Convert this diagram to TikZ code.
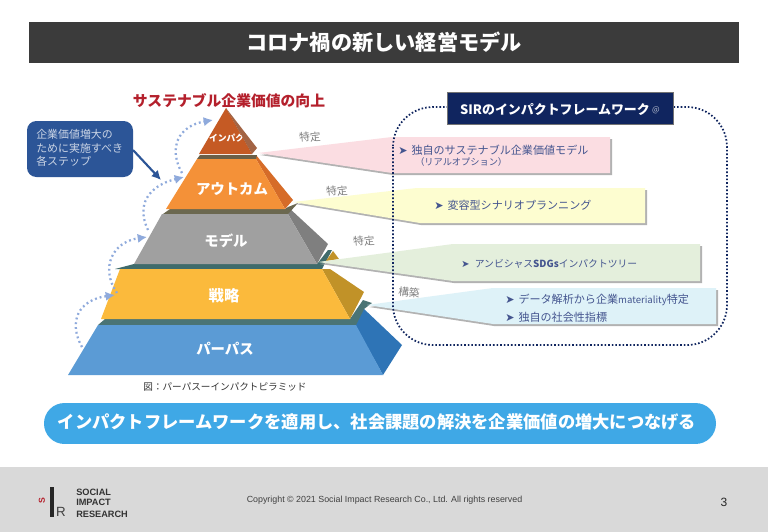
\documentclass[tikz,border=0pt]{standalone}
\usepackage{fontspec}
\setmainfont{Noto Sans CJK JP}
\newfontfamily\latfont{Liberation Sans}
\newfontfamily\symfont{DejaVu Sans}
\newcommand{\arr}{{\symfont ➤}}
\definecolor{barc}{HTML}{3B3B3B}
\definecolor{pillc}{HTML}{3FA8E6}
\definecolor{footc}{HTML}{D9D9D9}
\definecolor{calloutc}{HTML}{2C5597}
\definecolor{navyc}{HTML}{10255F}
\definecolor{notec}{HTML}{44558F}
\definecolor{redc}{HTML}{B4202C}
\definecolor{dotc}{HTML}{8FAADC}
\usetikzlibrary{arrows.meta}
\tikzset{
  x=0.75pt,y=-0.75pt,
  pylabel/.style={inner sep=0pt,text=white,font=\fontsize{10.8pt}{12pt}\selectfont\bfseries},
  note/.style={inner sep=0pt,anchor=west,text=notec,font=\fontsize{8.3pt}{10pt}\selectfont},
  act/.style={inner sep=0pt,text=black!50,font=\fontsize{8pt}{10pt}\selectfont},
  dotarc/.style={draw=dotc,line width=1.7pt,dash pattern=on 1.4pt off 2.2pt,-{Latex[length=7pt,width=7pt,fill=dotc]}},
  ptrshadow/.style={fill=black!30,draw=none},
  foot/.style={inner sep=0pt,anchor=west,text=black!80,font=\latfont\fontsize{6.9pt}{8pt}\selectfont\bfseries},
}
\begin{document}
\begin{tikzpicture}
\useasboundingbox (0,0) rectangle (768,532);
\fill[white] (0,0) rectangle (768,532);
% title bar
\fill[barc] (29,22) rectangle (739,63);
\node[inner sep=0pt,text=white,font=\fontsize{15.9pt}{18pt}\selectfont\bfseries] (title) at (384,42) {コロナ禍の新しい経営モデル};
% footer
\fill[footc] (0,467) rectangle (768,532);
% pyramid: base
\fill[color={rgb,255:red,46;green,116;blue,182}] (355,325) -- (363,308) -- (402,345) -- (383,375) -- cycle;
\fill[color={rgb,255:red,74;green,116;blue,117}] (98,325) -- (105,319) -- (350,319) -- (363,300) -- (372,303) -- (364,309) -- (356,325) -- cycle;
\fill[color={rgb,255:red,91;green,155;blue,213}] (68,375) -- (98,325) -- (356,325) -- (383,375) -- cycle;
% strategy
\fill[color={rgb,255:red,193;green,146;blue,40}] (322,269) -- (330,269) -- (364,292) -- (350,319) -- cycle;
\fill[color={rgb,255:red,63;green,107;blue,107}] (115,269) -- (134,264) -- (317,264) -- (328,250) -- (332,250) -- (322,269) -- cycle;
\fill[color={rgb,255:red,193;green,146;blue,40}] (333,251) -- (339,259) -- (326,261) -- cycle;
\fill[color={rgb,255:red,251;green,186;blue,60}] (101,319) -- (120,269) -- (322,269) -- (350,319) -- cycle;
% model
\fill[color={rgb,255:red,127;green,127;blue,127}] (288,207) -- (328,244) -- (317,264) -- (288,214) -- cycle;
\fill[color={rgb,255:red,107;green,104;blue,80}] (163,214) -- (170,209) -- (285,209) -- (288,207) -- (298,203) -- (288,214) -- cycle;
\fill[color={rgb,255:red,160;green,160;blue,160}] (134,264) -- (162,214) -- (288,214) -- (317,264) -- cycle;
% outcome
\fill[color={rgb,255:red,214;green,108;blue,40}] (256,155) -- (293,200) -- (285,209) -- (256,159) -- cycle;
\fill[color={rgb,255:red,107;green,96;blue,72}] (197,159) -- (200,155) -- (257,155) -- (256,159) -- cycle;
\fill[color={rgb,255:red,244;green,145;blue,56}] (166,209) -- (197,159) -- (256,159) -- (285,209) -- cycle;
% impact
\fill[color={rgb,255:red,197;green,90;blue,36}] (226,108) -- (199,154) -- (252,154) -- cycle;
\node[pylabel,font=\fontsize{6.6pt}{8pt}\selectfont\bfseries] (impact) at (231,138) {インパクト};
\fill[color={rgb,255:red,140;green,62;blue,22},fill opacity=0.8] (226,108) -- (257,148) -- (252,154) -- cycle;
% pyramid labels
\node[pylabel] (outcome) at (232,189) {アウトカム};
\node[pylabel] (model) at (226,241) {モデル};
\node[pylabel,font=\fontsize{11.5pt}{13pt}\selectfont\bfseries] (strategy) at (224,296) {戦略};
\node[pylabel] (purpose) at (225,349) {パーパス};
% pointers
\fill[ptrshadow] (260,155) -- (393,139) -- (612,139) -- (612,175) -- (393,175) -- cycle;
\fill[color={rgb,255:red,251;green,221;blue,226}] (258,153) -- (392,137) -- (610,137) -- (610,173) -- (392,173) -- cycle;
\fill[ptrshadow] (295,204) -- (418,190) -- (647,190) -- (647,225) -- (421,225) -- cycle;
\fill[color={rgb,255:red,253;green,253;blue,208}] (293,202) -- (417,188) -- (645,188) -- (645,223) -- (420,223) -- cycle;
\fill[ptrshadow] (320,264) -- (454,246) -- (702,246) -- (702,283) -- (454,283) -- cycle;
\fill[color={rgb,255:red,228;green,239;blue,220}] (318,262) -- (453,244) -- (700,244) -- (700,281) -- (453,281) -- cycle;
\fill[ptrshadow] (369,307) -- (494,290) -- (718,290) -- (718,326) -- (494,326) -- cycle;
\fill[color={rgb,255:red,222;green,242;blue,248}] (367,305) -- (493,288) -- (716,288) -- (716,324) -- (493,324) -- cycle;
% pointer texts
\node[note] (n1) at (398,150) {\arr\hspace{3pt}独自のサステナブル企業価値モデル};
\node[note,font=\fontsize{6.9pt}{8pt}\selectfont] (n1b) at (415,162) {（リアルオプション）};
\node[note] (n2) at (434,205) {\arr\hspace{3pt}変容型シナリオプランニング};
\node[note,font=\fontsize{7.35pt}{9pt}\selectfont] (n3) at (461,264) {\arr\hspace{4pt}アンビシャス\textbf{SDGs}インパクトツリー};
\node[note] (n4) at (505,300) {\arr\hspace{3pt}データ解析から企業{\fontsize{7.2pt}{9pt}\selectfont materiality}特定};
\node[note] (n5) at (505,317) {\arr\hspace{3pt}独自の社会性指標};
% action labels
\node[act,rotate=5] (a1) at (310,137) {特定};
\node[act,rotate=5] (a2) at (337,191) {特定};
\node[act,rotate=5] (a3) at (364,241) {特定};
\node[act,rotate=-5] (a4) at (409,292) {構築};
% framework
\draw[draw=navyc,line width=1.3pt,dash pattern=on 1.2pt off 1.5pt,rounded corners=30] (393,107) rectangle (727,345);
\node[draw=black!55,line width=0.6pt,fill=navyc,minimum width=169.5pt,minimum height=24pt,inner sep=0pt] (fw) at (560,108) {};
\node[inner sep=0pt,text=white,font=\fontsize{9.7pt}{11pt}\selectfont\bfseries] (fwt) at (555,109) {SIRのインパクトフレームワーク};
\node[inner sep=0pt,text=white!70!navyc,font=\fontsize{6pt}{7pt}\selectfont] (fwa) at (656,110) {@};
% heading
\node[inner sep=0pt,text=redc,font=\fontsize{11.1pt}{13pt}\selectfont\bfseries] (head) at (229,101) {サステナブル企業価値の向上};
% callout
\node[fill=calloutc,rounded corners=7pt,minimum width=79.5pt,minimum height=42pt,inner sep=0pt] (callout) at (80,149) {};
\node[inner sep=0pt,anchor=north west,align=left,text=white!75!calloutc,font=\fontsize{8.2pt}{10.2pt}\selectfont] (calltext) at (36,129) {企業価値増大の\\ために実施すべき\\各ステップ};
\coordinate (calltip) at (161,180);
\coordinate (callfrom) at (133,150);
\draw[calloutc,line width=1.6pt,-{Latex[length=7pt,width=7pt]}] (callfrom) -- (calltip);
% dotted step arrows
\coordinate (s1a) at (82,347); \coordinate (s1b) at (115,295);
\coordinate (s2a) at (117,293); \coordinate (s2b) at (147,237);
\coordinate (s3a) at (148,230); \coordinate (s3b) at (184,177);
\coordinate (s4a) at (182,173); \coordinate (s4b) at (213,120);
\draw[dotarc] (s1a) .. controls (68,322) and (78,300) .. (s1b);
\draw[dotarc] (s2a) .. controls (100,268) and (112,242) .. (s2b);
\draw[dotarc] (s3a) .. controls (136,205) and (148,186) .. (s3b);
\draw[dotarc] (s4a) .. controls (168,148) and (178,126) .. (s4b);
% caption
\node[inner sep=0pt,text=black!80,font=\fontsize{7.2pt}{9pt}\selectfont] (cap) at (225,387) {図：パーパスーインパクトピラミッド};
% pill
\node[fill=pillc,rounded corners=15.3pt,minimum width=504pt,minimum height=30.7pt,inner sep=0pt] (pill) at (380,423.5) {};
\node[inner sep=0pt,text=white,font=\fontsize{12.95pt}{15pt}\selectfont\bfseries] (pillt) at (377,422) {インパクトフレームワークを適用し、社会課題の解決を企業価値の増大につなげる};
% logo
\fill[black!85] (49.5,487) rectangle (53.5,517);
\node[inner sep=0pt,rotate=90,text=redc,font=\latfont\fontsize{6.5pt}{8pt}\selectfont\bfseries] (logos) at (42,501) {S};
\node[inner sep=0pt,text=black!75,font=\latfont\fontsize{10pt}{12pt}\selectfont] (logor) at (61,511.5) {R};
\node[foot] (f1) at (76,492) {SOCIAL};
\node[foot] (f2) at (76,502.7) {IMPACT};
\node[foot] (f3) at (76,514) {RESEARCH};
\node[inner sep=0pt,text=black!75,font=\latfont\fontsize{6.65pt}{8pt}\selectfont] (copy) at (384.5,500) {Copyright © 2021 Social Impact Research Co., Ltd. All rights reserved};
\node[inner sep=0pt,text=black!85,font=\latfont\fontsize{9pt}{11pt}\selectfont] (page) at (724,502) {3};
\end{tikzpicture}
\end{document}
